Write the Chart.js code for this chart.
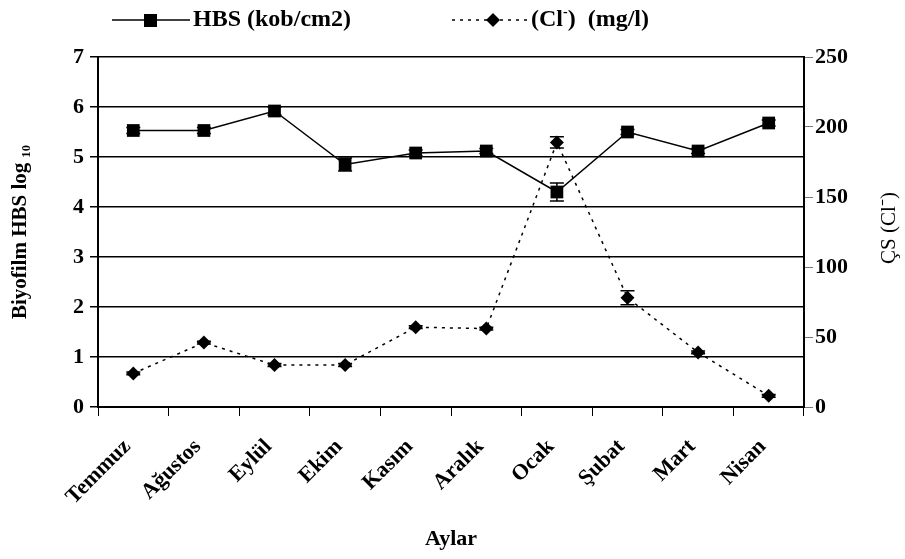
<!DOCTYPE html>
<html>
<head>
<meta charset="utf-8">
<script src="https://cdn.jsdelivr.net/npm/chart.js@4"></script>
<style>
  body { margin: 0; background: #fff; }
  canvas { display: block; }
</style>
</head>
<body>
<canvas id="myChart" width="905" height="559"></canvas>
<script>
let months = ['Temmuz', 'Ağustos', 'Eylül', 'Ekim', 'Kasım', 'Aralık', 'Ocak', 'Şubat', 'Mart', 'Nisan']
let hbs = [5.53, 5.53, 5.92, 4.85, 5.08, 5.12, 4.30, 5.50, 5.12, 5.68]
let hbsErr = [0.06, 0.06, 0.08, 0.13, 0.06, 0.05, 0.18, 0.05, 0.05, 0.06]
let chloride = [24, 46, 30, 30, 57, 56, 189, 78, 39, 8]
let chlorideErr = [1, 1, 1, 1, 1, 1, 4, 5, 1, 1]
let hbsTicks = [0, 1, 2, 3, 4, 5, 6, 7]
let clTicks = [0, 50, 100, 150, 200, 250]

const FONT = 'Liberation Serif'

// vertical error bars with caps, drawn through each dataset's own y scale
const errorBars = {
    id: 'errorBars',
    afterDatasetsDraw(chart) {
        let ctx = chart.ctx
        chart.data.datasets.forEach((ds, i) => {
            if (!ds.errors) return
            let meta = chart.getDatasetMeta(i)
            let ys = chart.scales[ds.yAxisID]
            ctx.save()
            ctx.strokeStyle = '#000'
            ctx.lineWidth = 1.5
            meta.data.forEach((pt, j) => {
                let top = ys.getPixelForValue(ds.data[j] + ds.errors[j])
                let bot = ys.getPixelForValue(ds.data[j] - ds.errors[j])
                ctx.beginPath()
                ctx.moveTo(pt.x, top); ctx.lineTo(pt.x, bot)
                ctx.moveTo(pt.x - 7, top); ctx.lineTo(pt.x + 7, top)
                ctx.moveTo(pt.x - 7, bot); ctx.lineTo(pt.x + 7, bot)
                ctx.stroke()
            })
            ctx.restore()
        })
    }
}

// legend across the top, plus the right axis title (reads bottom to top)
const extras = {
    id: 'extras',
    afterDraw(chart) {
        let ctx = chart.ctx
        let y = 20
        ctx.save()
        ctx.fillStyle = '#000'
        ctx.strokeStyle = '#000'
        ctx.font = 'bold 24px ' + FONT
        ctx.textBaseline = 'middle'

        // HBS: solid line with square
        ctx.lineWidth = 1.5
        ctx.beginPath(); ctx.moveTo(112, y); ctx.lineTo(190, y); ctx.stroke()
        ctx.fillRect(144, y - 6, 13, 13)
        ctx.fillText('HBS (kob/cm2)', 193, y)

        // chloride: dotted line with diamond
        ctx.setLineDash([3, 5])
        ctx.beginPath(); ctx.moveTo(452, y); ctx.lineTo(528, y); ctx.stroke()
        ctx.setLineDash([])
        ctx.beginPath()
        ctx.moveTo(493, y - 7); ctx.lineTo(500, y); ctx.lineTo(493, y + 7); ctx.lineTo(486, y)
        ctx.closePath(); ctx.fill()
        let x = 531
        ctx.fillText('(Cl', x, y); x += ctx.measureText('(Cl').width
        ctx.font = 'bold 14px ' + FONT
        ctx.fillText('-', x, y - 8); x += ctx.measureText('-').width
        ctx.font = 'bold 24px ' + FONT
        ctx.fillText(')  (mg/l)', x, y)

        // right axis title
        let ax = chart.scales.y2
        ctx.translate(889, (ax.top + ax.bottom) / 2 - 4)
        ctx.rotate(-Math.PI / 2)
        ctx.textAlign = 'center'
        ctx.font = '21px ' + FONT
        ctx.fillText('ÇS (Cl⁻)', 0, 0)
        ctx.restore()
    }
}

let ctx = document.getElementById('myChart').getContext('2d')
let chart = new Chart(ctx, {
    type: 'line',
    data: {
        labels: months,
        datasets: [{
            label: 'HBS (kob/cm2)',
            data: hbs,
            errors: hbsErr,
            yAxisID: 'y',
            borderColor: '#000',
            backgroundColor: '#000',
            borderWidth: 1.5,
            pointStyle: 'rect',
            pointRadius: 9,
            pointBorderWidth: 0,
            tension: 0
        }, {
            label: '(Cl-) (mg/l)',
            data: chloride,
            errors: chlorideErr,
            yAxisID: 'y2',
            borderColor: '#000',
            backgroundColor: '#000',
            borderWidth: 1.5,
            borderDash: [3, 5],
            pointStyle: 'rectRot',
            pointRadius: 7,
            pointBorderWidth: 0,
            tension: 0
        }]
    },
    plugins: [errorBars, extras],
    options: {
        responsive: false,
        animation: false,
        layout: { padding: { top: 57, left: 0, right: 0, bottom: 0 } },
        plugins: { legend: { display: false }, tooltip: { enabled: false } },
        scales: {
            x: {
                offset: true,
                afterFit(s) { s.height = 152 },
                grid: { offset: true, drawOnChartArea: false, color: '#000', lineWidth: 1, tickLength: 9 },
                border: { color: '#000', width: 2 },
                ticks: {
                    autoSkip: false, maxRotation: 45, minRotation: 45, padding: 18, labelOffset: -6,
                    color: '#000', font: { family: FONT, size: 22, weight: 'bold' }
                },
                title: {
                    display: true, text: 'Aylar', color: '#000',
                    font: { family: FONT, size: 22, weight: 'bold' },
                    padding: { top: 4, bottom: 6 }
                }
            },
            y: {
                position: 'left',
                min: 0, max: 7,
                afterFit(s) { s.width = 98 },
                afterBuildTicks(s) { s.ticks = hbsTicks.map(v => ({ value: v })) },
                grid: { color: '#000', lineWidth: 1.5, tickLength: 8 },
                border: { color: '#000', width: 2 },
                ticks: { color: '#000', padding: 6, font: { family: FONT, size: 22, weight: 'bold' } },
                title: {
                    display: true, text: 'Biyofilm HBS log ₁₀', color: '#000',
                    font: { family: FONT, size: 21, weight: 'bold' },
                    padding: { top: 8, bottom: 0 }
                }
            },
            y2: {
                position: 'right',
                min: 0, max: 250,
                afterFit(s) { s.width = 101 },
                afterBuildTicks(s) { s.ticks = clTicks.map(v => ({ value: v })) },
                grid: { drawOnChartArea: false, color: '#777', lineWidth: 1, tickLength: 9 },
                border: { color: '#000', width: 2 },
                ticks: { color: '#000', padding: 2, font: { family: FONT, size: 22, weight: 'bold' } }
            }
        }
    }
})
</script>
</body>
</html>
